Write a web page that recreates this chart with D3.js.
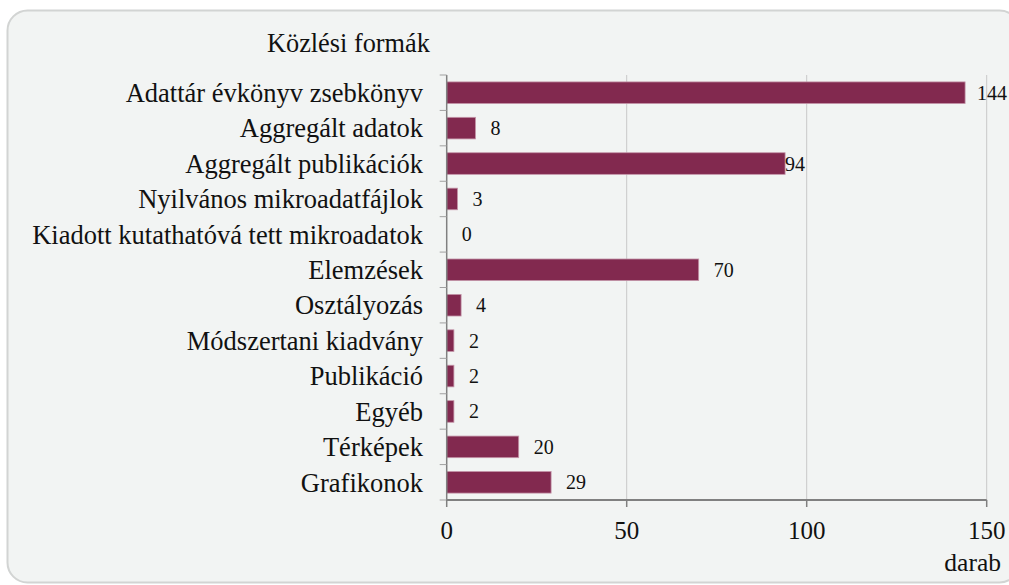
<!DOCTYPE html>
<html>
<head>
<meta charset="utf-8">
<script src="https://cdn.jsdelivr.net/npm/d3@7"></script>
<style>
  body { margin: 0; background: #ffffff; }
  svg { display: block; }
  text { font-family: 'Liberation Serif', 'Times New Roman', serif; fill: #111; }
</style>
</head>
<body>
<script>
// Chart size
var w = 1009;
var h = 585;

// Categories (top to bottom) and their counts
var categories = [
    "Adattár évkönyv zsebkönyv",
    "Aggregált adatok",
    "Aggregált publikációk",
    "Nyilvános mikroadatfájlok",
    "Kiadott kutathatóvá tett mikroadatok",
    "Elemzések",
    "Osztályozás",
    "Módszertani kiadvány",
    "Publikáció",
    "Egyéb",
    "Térképek",
    "Grafikonok"
];
var values = [144, 8, 94, 3, 0, 70, 4, 2, 2, 2, 20, 29];

// Axis ticks and titles
var xTicks = [0, 50, 100, 150];
var yTitle = "Közlési formák";
var xTitle = "darab";

// Plot area (note: "top" is reserved on window, so use other names)
var plotLeft = 446.7, plotRight = 986.7, plotTop = 75, plotBottom = 500;

var xScale = d3.scaleLinear()
               .domain([0, 150])
               .range([plotLeft, plotRight]);

var yScale = d3.scaleBand()
               .domain(categories)
               .range([plotTop, plotBottom])
               .paddingInner(0.39)
               .paddingOuter(0.195);

var svg = d3.select("body")
            .append("svg")
            .attr("width", w)
            .attr("height", h);

// Rounded panel background
svg.append("rect")
    .attr("x", 7.5)
    .attr("y", 10.5)
    .attr("width", 1012)
    .attr("height", 572)
    .attr("rx", 20)
    .attr("fill", "#f2f4f3")
    .attr("stroke", "#d2d4d3")
    .attr("stroke-width", 2);

// Vertical gridlines
svg.selectAll("line.grid")
    .data(xTicks.slice(1))
    .enter()
    .append("line")
    .attr("class", "grid")
    .attr("x1", function(d) { return xScale(d); })
    .attr("x2", function(d) { return xScale(d); })
    .attr("y1", plotTop)
    .attr("y2", plotBottom)
    .attr("stroke", "#c8c8c8")
    .attr("stroke-width", 1);

// Bars
svg.selectAll("rect.bar")
    .data(values)
    .enter()
    .append("rect")
    .attr("class", "bar")
    .attr("x", xScale(0))
    .attr("y", function(d, i) { return yScale(categories[i]); })
    .attr("width", function(d) { return xScale(d) - xScale(0); })
    .attr("height", yScale.bandwidth())
    .attr("fill", "#82294f")
    .attr("stroke", function(d) { return d > 0 ? "#c495a9" : "none"; })
    .attr("stroke-width", 0.8);

// Value labels
svg.selectAll("text.value")
    .data(values)
    .enter()
    .append("text")
    .attr("class", "value")
    .text(function(d) { return d; })
    .attr("x", function(d) { return xScale(d) + (d === 94 ? 0 : d > 100 ? 12 : 15); })
    .attr("y", function(d, i) { return yScale(categories[i]) + yScale.bandwidth() / 2; })
    .attr("dy", "0.35em")
    .style("font-size", "20px");

// Y axis (category labels, ticks at band boundaries)
var yAxis = svg.append("g");
yAxis.append("line")
    .attr("x1", plotLeft).attr("x2", plotLeft)
    .attr("y1", plotTop).attr("y2", plotBottom)
    .attr("stroke", "#808080")
    .attr("stroke-width", 1.5);

var step = yScale.step();
yAxis.selectAll("line.tick")
    .data(d3.range(categories.length + 1))
    .enter()
    .append("line")
    .attr("class", "tick")
    .attr("x1", plotLeft - 7).attr("x2", plotLeft)
    .attr("y1", function(i) { return plotTop + i * step; })
    .attr("y2", function(i) { return plotTop + i * step; })
    .attr("stroke", "#a0a0a0")
    .attr("stroke-width", 1);

yAxis.selectAll("text")
    .data(categories)
    .enter()
    .append("text")
    .text(function(d) { return d; })
    .attr("x", 423)
    .attr("y", function(d) { return yScale(d) + yScale.bandwidth() / 2; })
    .attr("dy", "0.35em")
    .attr("text-anchor", "end")
    .style("font-size", "26.5px");

// X axis
var xAxis = svg.append("g");
xAxis.append("line")
    .attr("x1", plotLeft).attr("x2", plotRight)
    .attr("y1", plotBottom).attr("y2", plotBottom)
    .attr("stroke", "#808080")
    .attr("stroke-width", 2);

xAxis.selectAll("line.tick")
    .data(xTicks)
    .enter()
    .append("line")
    .attr("class", "tick")
    .attr("x1", function(d) { return xScale(d); })
    .attr("x2", function(d) { return xScale(d); })
    .attr("y1", plotBottom)
    .attr("y2", plotBottom + 7)
    .attr("stroke", "#808080")
    .attr("stroke-width", 1.5);

xAxis.selectAll("text")
    .data(xTicks)
    .enter()
    .append("text")
    .text(function(d) { return d; })
    .attr("x", function(d) { return xScale(d); })
    .attr("y", 539)
    .attr("text-anchor", "middle")
    .style("font-size", "25px");

// Axis titles
svg.append("text")
    .text(xTitle)
    .attr("x", 1001)
    .attr("y", 571)
    .attr("text-anchor", "end")
    .style("font-size", "25.5px");

svg.append("text")
    .text(yTitle)
    .attr("x", 267)
    .attr("y", 52)
    .style("font-size", "26.3px");
</script>
</body>
</html>
